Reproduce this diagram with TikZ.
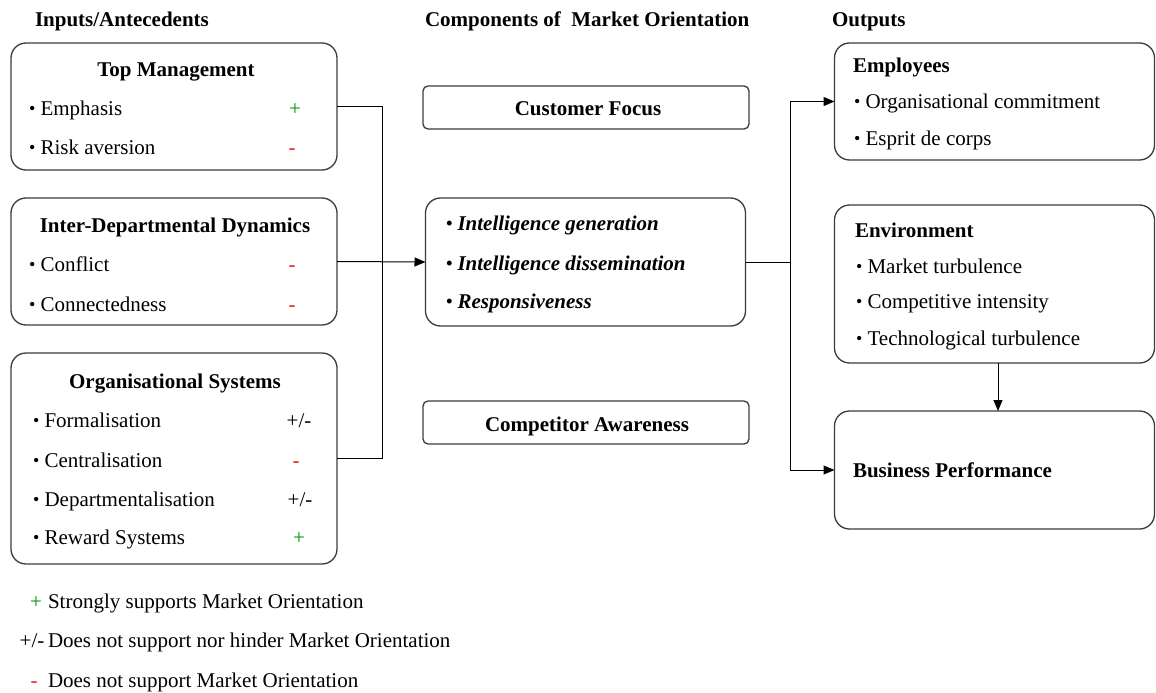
\documentclass[tikz,border=0pt]{standalone}
\usepackage{fontspec}
\setmainfont{LiberationSerif}[Extension=.ttf, UprightFont=*-Regular, BoldFont=*-Bold, ItalicFont=*-Italic, BoldItalicFont=*-BoldItalic]
\usetikzlibrary{arrows.meta}
\definecolor{plusgreen}{RGB}{0,150,0}
\definecolor{minusred}{RGB}{230,30,30}
\definecolor{boxline}{RGB}{60,60,60}
\newcommand\bul{{\fontsize{18}{18}\selectfont\raisebox{0.5pt}{•}}}
\begin{document}
\begin{tikzpicture}[x=1pt,y=-1pt,
  every node/.style={font=\fontsize{21}{25}\selectfont, inner sep=0pt, outer sep=0pt},
  bigbox/.style={draw=boxline, line width=1.3pt, rounded corners=15pt},
  smallbox/.style={draw=boxline, line width=1.3pt, rounded corners=5pt},
  txt/.style={anchor=base west},
  ttl/.style={anchor=base, font=\fontsize{21}{25}\selectfont\bfseries},
  ttlw/.style={anchor=base west, font=\fontsize{21}{25}\selectfont\bfseries},
  plus/.style={anchor=base, text=plusgreen},
  minus/.style={anchor=base, text=minusred},
  pm/.style={anchor=base},
  arr/.style={-{Triangle[length=11pt,width=9pt]}, line width=1pt},
  wire/.style={line width=1pt}
]
\fill[white] (0,0) rectangle (1156,693);
\useasboundingbox (0,0) rectangle (1156,693);

% column headings
\node[ttlw] (h1) at (35,27) {Inputs/Antecedents};
\node[ttlw] (h2) at (425,27) {Components of\ \ Market Orientation};
\node[ttlw] (h3) at (832,27) {Outputs};

% antecedent boxes
\node[bigbox, minimum width=326pt, minimum height=127pt] (tm) at (174,106.5) {};
\node[bigbox, minimum width=326pt, minimum height=127pt] (idd) at (174,261.5) {};
\node[bigbox, minimum width=326pt, minimum height=211pt] (os) at (174,458.5) {};

\node[ttl] (tmt) at (176,77) {Top Management};
\node[txt] (tm1) at (29,115) {\bul\ Emphasis};
\node[txt] (tm2) at (29,154) {\bul\ Risk aversion};
\node[plus] (tm1s) at (295,115) {+};
\node[minus] (tm2s) at (292,154) {-};

\node[ttl] (iddt) at (175,232) {Inter-Departmental Dynamics};
\node[txt] (idd1) at (29,271) {\bul\ Conflict};
\node[txt] (idd2) at (29,311) {\bul\ Connectedness};
\node[minus] (idd1s) at (292,271) {-};
\node[minus] (idd2s) at (292,311) {-};

\node[ttl] (ost) at (175,388) {Organisational Systems};
\node[txt] (os1) at (33,427) {\bul\ Formalisation};
\node[txt] (os2) at (33,467) {\bul\ Centralisation};
\node[txt] (os3) at (33,506) {\bul\ Departmentalisation};
\node[txt] (os4) at (33,544) {\bul\ Reward Systems};
\node[pm] (os1s) at (299,427) {+/-};
\node[minus] (os2s) at (296,467) {-};
\node[pm] (os3s) at (300,506) {+/-};
\node[plus] (os4s) at (299,544) {+};

% legend
\node[plus] (lg1s) at (36,608) {+};
\node[txt] (lg1) at (48,608) {Strongly supports Market Orientation};
\node[pm] (lg2s) at (32,647) {+/-};
\node[txt] (lg2) at (48,647) {Does not support nor hinder Market Orientation};
\node[minus] (lg3s) at (34,687) {-};
\node[txt] (lg3) at (48,687) {Does not support Market Orientation};

% components of market orientation
\node[smallbox, minimum width=326pt, minimum height=43pt] (cf) at (586,107.5) {};
\node[ttl] (cft) at (588,115) {Customer Focus};
\node[bigbox, minimum width=320pt, minimum height=128pt] (mid) at (585.5,262) {};
\node[txt, font=\fontsize{21}{25}\selectfont\bfseries\itshape] (m1) at (446,230) {\bul\ Intelligence generation};
\node[txt, font=\fontsize{21}{25}\selectfont\bfseries\itshape] (m2) at (446,270) {\bul\ Intelligence dissemination};
\node[txt, font=\fontsize{21}{25}\selectfont\bfseries\itshape] (m3) at (446,308) {\bul\ Responsiveness};
\node[smallbox, minimum width=326pt, minimum height=43pt] (ca) at (586,422.5) {};
\node[ttl] (cat) at (587,431) {Competitor Awareness};

% outputs
\node[bigbox, minimum width=320pt, minimum height=117pt] (emp) at (994.5,101.5) {};
\node[ttlw] (empt) at (853,73) {Employees};
\node[txt] (emp1) at (854,108) {\bul\ Organisational commitment};
\node[txt] (emp2) at (854,145) {\bul\ Esprit de corps};

\node[bigbox, minimum width=320pt, minimum height=158pt] (env) at (994.5,284) {};
\node[ttlw] (envt) at (855,237) {Environment};
\node[txt] (env1) at (856,273) {\bul\ Market turbulence};
\node[txt] (env2) at (856,308) {\bul\ Competitive intensity};
\node[txt] (env3) at (856,345) {\bul\ Technological turbulence};

\node[bigbox, minimum width=320pt, minimum height=118pt] (bp) at (994.5,470) {};
\node[ttlw] (bpt) at (853,477) {Business Performance};

% connectors
\coordinate (lb) at (382,0);
\coordinate (rb) at (790,0);
\coordinate (eb) at (998,0);
\draw[wire] (tm.east) -| (lb |- os.east) -- (os.east);
\draw[arr] (idd.east) -- (mid.west);
\draw[wire] (mid.east) -- (rb |- mid.east);
\draw[arr] (rb |- emp.west) -- (emp.west);
\draw[arr] (rb |- emp.west) |- (bp.west);
\draw[arr] (eb |- env.south) -- (eb |- bp.north);
\end{tikzpicture}
\end{document}
